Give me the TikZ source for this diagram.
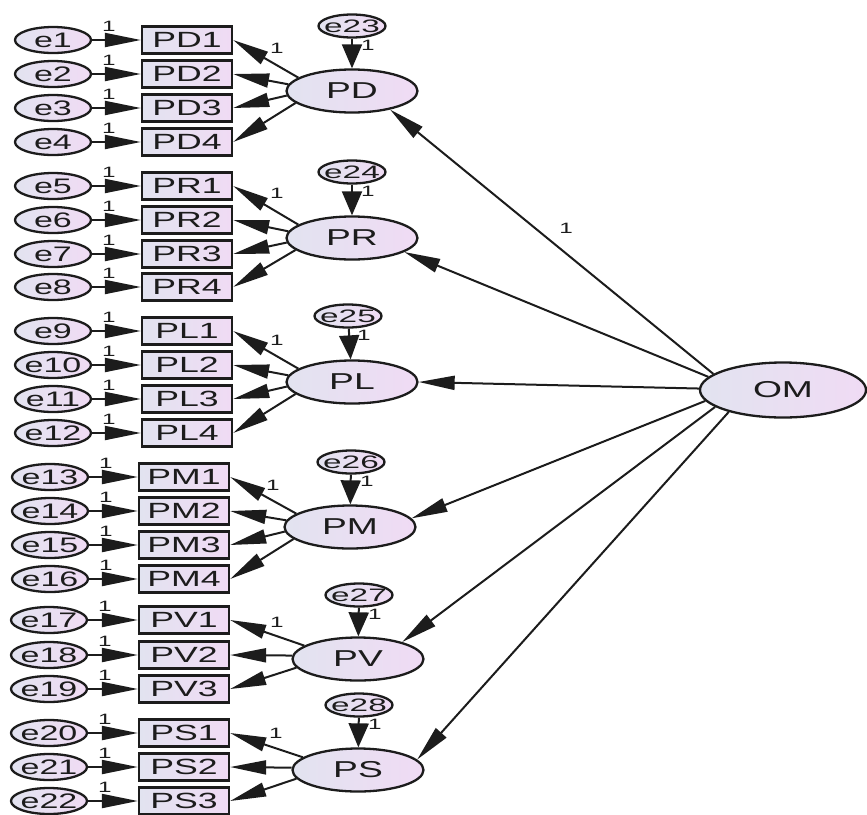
\documentclass[tikz,border=0pt]{standalone}
\usepackage{fontspec}
\newfontfamily\amos[FakeStretch=1.62]{Liberation Sans}
\newfontfamily\amoswide[FakeStretch=1.85]{Liberation Sans}
\usetikzlibrary{arrows.meta,shapes.geometric}

\definecolor{fillL}{RGB}{226,227,240}
\definecolor{fillR}{RGB}{240,219,244}
\definecolor{ink}{RGB}{28,28,28}

\tikzset{
  shaded/.style={draw=ink, line width=2.3pt, inner sep=0pt, left color=fillL, right color=fillR, text=ink},
  obsvar/.style={shaded, rectangle, minimum width=90pt, minimum height=27pt,
    font=\amos\fontsize{22}{22}\selectfont},
  latvar/.style={shaded, ellipse, minimum width=131pt, minimum height=43pt,
    font=\amos\fontsize{23}{23}\selectfont},
  errvar/.style={shaded, ellipse, minimum width=76pt, minimum height=26pt,
    font=\amos\fontsize{21}{21}\selectfont},
  distvar/.style={shaded, ellipse, minimum width=67pt, minimum height=23pt,
    font=\amoswide\fontsize{18}{18}\selectfont},
  regpath/.style={draw=ink, line width=2pt, -{Triangle[length=36pt,width=14pt]}},
  vpath/.style={draw=ink, line width=2pt, -{Triangle[length=24pt,width=20pt]}},
  wlab/.style={font=\amos\fontsize{15}{15}\selectfont, inner sep=0pt, text=ink},
}

\begin{document}
\begin{tikzpicture}[x=1pt,y=-1pt]
\useasboundingbox (0,0) rectangle (867,814);

% first-order factors
\node[latvar] (PD) at (352,91)  {PD};
\node[latvar] (PR) at (352,238) {PR};
\node[latvar] (PL) at (352,382) {PL};
\node[latvar] (PM) at (350,527) {PM};
\node[latvar] (PV) at (358,659) {PV};
\node[latvar] (PS) at (358,770) {PS};

% second-order factor
\node[latvar, minimum width=166pt, minimum height=55pt] (OM) at (783,390) {OM};

% disturbances of the first-order factors
\foreach \err/\lat/\xx/\yy in {e23/PD/352/26, e24/PR/352/172, e25/PL/348/316,
                               e26/PM/351/462, e27/PV/359/595, e28/PS/359/705}{
  \node[distvar] (\err) at (\xx,\yy) {\makebox[0pt]{\err}};
  \draw[vpath] (\err) -- (\lat);
  \node[wlab] at (\xx+16,\yy+19) {1};
}

% indicators with their measurement errors
\foreach \ind/\err/\ex/\rx/\yy/\lat/\ang in {
  PD1/e1/53/187/40/PD/166,   PD2/e2/53/187/74/PD/174,   PD3/e3/53/187/108/PD/184,  PD4/e4/53/187/142/PD/192,
  PR1/e5/53/187/186/PR/166,  PR2/e6/53/187/220/PR/174,  PR3/e7/53/187/254/PR/184,  PR4/e8/53/187/287/PR/192,
  PL1/e9/53/187/331/PL/166,  PL2/e10/53/187/365/PL/174, PL3/e11/53/187/399/PL/184, PL4/e12/53/187/433/PL/192,
  PM1/e13/50/184/477/PM/166, PM2/e14/50/184/511/PM/174, PM3/e15/50/184/545/PM/184, PM4/e16/50/184/579/PM/192,
  PV1/e17/49/184/620/PV/166, PV2/e18/49/184/655/PV/177, PV3/e19/49/184/689/PV/188,
  PS1/e20/49/184/733/PS/167, PS2/e21/49/184/767/PS/178, PS3/e22/49/184/801/PS/188}{
  \node[obsvar] (\ind) at (\rx,\yy) {\ind};
  \node[errvar] (\err) at (\ex,\yy) {\makebox[0pt]{\err}};
  \draw[regpath] (\err) -- (\ind.west);
  \node[wlab] at (\ex+56,\yy-14) {1};
  \draw[regpath] (\lat.\ang) -- (\ind.east);
}

% fixed loadings of the first indicators
\node[wlab] at (277,48)  {1};
\node[wlab] at (277,193) {1};
\node[wlab] at (277,340) {1};
\node[wlab] at (273,485) {1};
\node[wlab] at (277,622) {1};
\node[wlab] at (276,733) {1};

% second-order loadings
\draw[regpath] (OM.167) -- (PD.334);
\draw[regpath] (OM.170) -- (PR.345);
\draw[regpath] (OM.179) -- (PL.east);
\draw[regpath] (OM.188) -- (PM.8);
\draw[regpath] (OM.194) -- (PV.21);
\draw[regpath] (OM.202) -- (PS.10);
\node[wlab] at (566,228) {1};
\end{tikzpicture}
\end{document}
